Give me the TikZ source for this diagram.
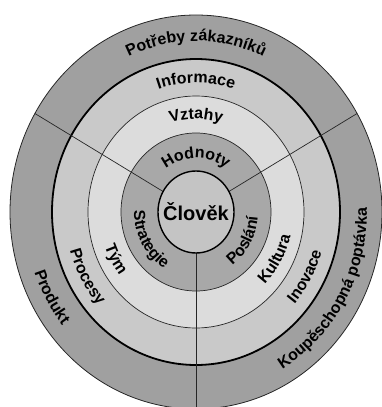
\documentclass[tikz,border=0pt]{standalone}
\usepackage{fontspec}
\setmainfont{Liberation Sans}
\usetikzlibrary{decorations.text}
\definecolor{ringout}{HTML}{A0A0A0}
\definecolor{ringinf}{HTML}{C9C9C9}
\definecolor{ringvzt}{HTML}{DCDCDC}
\definecolor{ringhod}{HTML}{A8A8A8}
\definecolor{core}{HTML}{C4C4C4}
\tikzset{
  lbl/.style={decorate,decoration={text along path,text align=center,
    text={|\bfseries\fontsize{16}{16}\selectfont|#1}}},
  border/.style={draw=black!85,line width=0.7pt}
}

\begin{document}
\begin{tikzpicture}[x=1pt,y=1pt]
\useasboundingbox (-196,-195) rectangle (185,212);
% rings, outside in
\filldraw[fill=ringout,border,line width=0.8pt] (0,0) ellipse[x radius=186,y radius=197];
\filldraw[fill=ringinf,line width=1.8pt] (0,0) ellipse[x radius=144,y radius=153];
\filldraw[fill=ringvzt,border] (0,0) ellipse[x radius=108,y radius=116];
\filldraw[fill=ringhod,border] (0,0) ellipse[x radius=75,y radius=79];
% three sectors
\foreach \a in {30,150,270}
  \draw[border] (\a:38 and 41) -- (\a:186 and 197);
\filldraw[fill=core,line width=1.4pt] (0,0) ellipse[x radius=38,y radius=41];
\node[font=\bfseries\fontsize{20}{20}\selectfont] (clovek) at (0,0) {Člověk};
% top sector
\path[lbl={Potřeby zákazníků}] (150:160 and 171) arc[start angle=150,end angle=30,x radius=160,y radius=171];
\path[lbl={Informace}] (150:121 and 129) arc[start angle=150,end angle=30,x radius=121,y radius=129];
\path[lbl={Vztahy}] (150:87 and 93) arc[start angle=150,end angle=30,x radius=87,y radius=93];
\path[lbl={Hodnoty}] (150:51 and 54) arc[start angle=150,end angle=30,x radius=51,y radius=54];
% left sector
\path[lbl={Produkt}] (150:171 and 182) arc[start angle=150,end angle=270,x radius=171,y radius=182];
\path[lbl={Procesy}] (150:131 and 140) arc[start angle=150,end angle=270,x radius=131,y radius=140];
\path[lbl={Tým}] (150:97 and 103) arc[start angle=150,end angle=270,x radius=97,y radius=103];
\path[lbl={Strategie}] (150:62 and 66) arc[start angle=150,end angle=270,x radius=62,y radius=66];
% right sector
\path[lbl={Koupěschopná poptávka}] (270:171 and 182) arc[start angle=270,end angle=390,x radius=171,y radius=182];
\path[lbl={Inovace}] (270:131 and 140) arc[start angle=270,end angle=390,x radius=131,y radius=140];
\path[lbl={Kultura}] (270:97 and 103) arc[start angle=270,end angle=390,x radius=97,y radius=103];
\path[lbl={Poslání}] (270:62 and 66) arc[start angle=270,end angle=390,x radius=62,y radius=66];
\end{tikzpicture}
\end{document}
